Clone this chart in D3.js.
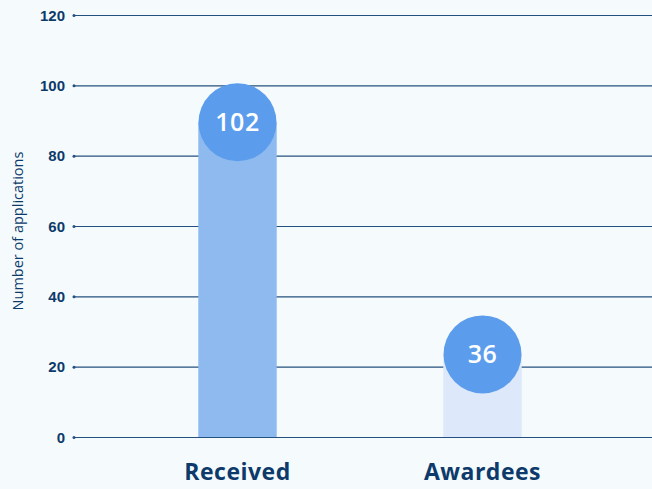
<!DOCTYPE html>
<html>
<head>
<meta charset="utf-8">
<script src="https://cdn.jsdelivr.net/npm/d3@7"></script>
<style>
	body { margin: 0; background: #f5fafc; }
	svg { display: block; font-family: 'Open Sans', 'Lato', sans-serif; }
	.tick text { fill: #0d3a6b; font-weight: 700; font-size: 15px; }
	.grid line { stroke: #24507f; stroke-width: 1.2; }
</style>
</head>
<body>
<script>
const categories = ['Received', 'Awardees']
const values = [102, 36]
const yTicks = [0, 20, 40, 60, 80, 100, 120]
const barColors = ['#8ebaf0', '#dde9fa']

const width = 652
const height = 489
const margin = { top: 15, right: 0, bottom: 52, left: 74 }

const svg = d3.select('body').append('svg')
	.attr('width', width)
	.attr('height', height)

svg.append('rect')
	.attr('width', width)
	.attr('height', height)
	.attr('fill', '#f5fafc')

const scaleY = d3.scaleLinear()
	.domain([0, 120])
	.range([height - margin.bottom, margin.top])

const scaleX = d3.scaleBand()
	.domain(categories)
	.range([115, 605])
	.paddingInner(0.68)
	.paddingOuter(0.34)

// gridlines + tick labels
const yAxis = svg.append('g')
	.attr('class', 'grid')
	.attr('transform', `translate(${margin.left}, 0)`)
	.call(d3.axisRight(scaleY).tickValues(yTicks).tickSize(width - margin.left).tickFormat(d => d))

yAxis.select('.domain').remove()
yAxis.selectAll('.tick text')
	.attr('x', -9)
	.attr('text-anchor', 'end')
	.attr('dy', '0.35em')
yAxis.selectAll('.tick').append('circle')
	.attr('r', 1.5)
	.attr('fill', '#24507f')

svg.append('text')
	.attr('transform', `translate(23, ${scaleY(60) + 5}) rotate(-90)`)
	.attr('text-anchor', 'middle')
	.attr('fill', '#0d3a6b')
	.style('font-size', '14.5px')
	.text('Number of applications')

const badgeR = 39
const badgeOffset = 44

const bars = svg.append('g').selectAll('g')
	.data(categories)
	.join('g')

bars.append('rect')
	.attr('x', d => scaleX(d))
	.attr('width', scaleX.bandwidth())
	.attr('y', (d, i) => scaleY(values[i]) + badgeOffset)
	.attr('height', (d, i) => scaleY(0) - scaleY(values[i]) - badgeOffset)
	.attr('fill', (d, i) => barColors[i])

bars.append('circle')
	.attr('cx', d => scaleX(d) + scaleX.bandwidth() / 2)
	.attr('cy', (d, i) => scaleY(values[i]) + badgeOffset)
	.attr('r', badgeR)
	.attr('fill', '#5b9dec')

bars.append('text')
	.attr('x', d => scaleX(d) + scaleX.bandwidth() / 2)
	.attr('y', (d, i) => scaleY(values[i]) + badgeOffset)
	.attr('dy', '0.36em')
	.attr('text-anchor', 'middle')
	.attr('fill', '#ffffff')
	.style('font-size', '25px')
	.style('font-weight', 600)
	.style('letter-spacing', '0.5px')
	.text((d, i) => values[i])

bars.append('text')
	.attr('x', d => scaleX(d) + scaleX.bandwidth() / 2)
	.attr('y', 480)
	.attr('text-anchor', 'middle')
	.attr('fill', '#0d3a6b')
	.style('font-size', '23px')
	.style('font-weight', 700)
	.style('letter-spacing', '0.5px')
	.text(d => d)
</script>
</body>
</html>
